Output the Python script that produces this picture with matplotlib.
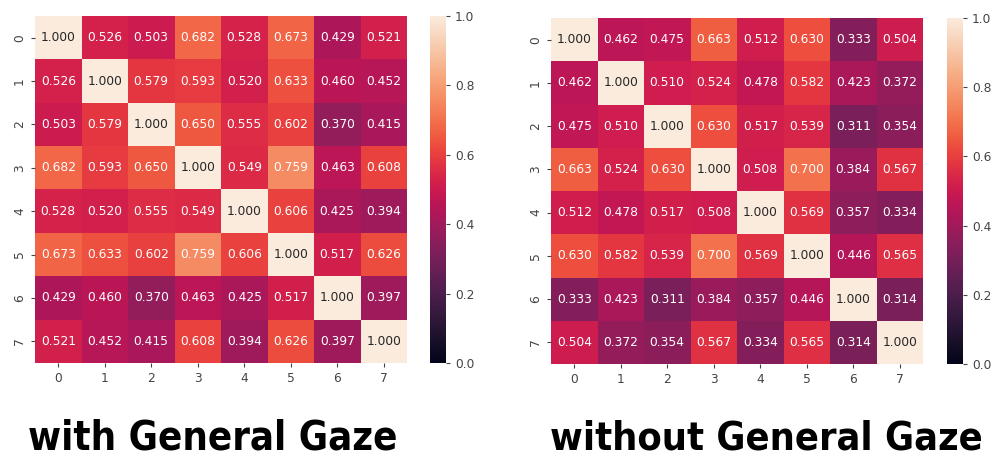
import numpy as np
import matplotlib
matplotlib.use("Agg")
import matplotlib.pyplot as plt
import seaborn as sns

labels = [str(i) for i in range(8)]

with_gaze = [
    [1.000, 0.526, 0.503, 0.682, 0.528, 0.673, 0.429, 0.521],
    [0.526, 1.000, 0.579, 0.593, 0.520, 0.633, 0.460, 0.452],
    [0.503, 0.579, 1.000, 0.650, 0.555, 0.602, 0.370, 0.415],
    [0.682, 0.593, 0.650, 1.000, 0.549, 0.759, 0.463, 0.608],
    [0.528, 0.520, 0.555, 0.549, 1.000, 0.606, 0.425, 0.394],
    [0.673, 0.633, 0.602, 0.759, 0.606, 1.000, 0.517, 0.626],
    [0.429, 0.460, 0.370, 0.463, 0.425, 0.517, 1.000, 0.397],
    [0.521, 0.452, 0.415, 0.608, 0.394, 0.626, 0.397, 1.000],
]

without_gaze = [
    [1.000, 0.462, 0.475, 0.663, 0.512, 0.630, 0.333, 0.504],
    [0.462, 1.000, 0.510, 0.524, 0.478, 0.582, 0.423, 0.372],
    [0.475, 0.510, 1.000, 0.630, 0.517, 0.539, 0.311, 0.354],
    [0.663, 0.524, 0.630, 1.000, 0.508, 0.700, 0.384, 0.567],
    [0.512, 0.478, 0.517, 0.508, 1.000, 0.569, 0.357, 0.334],
    [0.630, 0.582, 0.539, 0.700, 0.569, 1.000, 0.446, 0.565],
    [0.333, 0.423, 0.311, 0.384, 0.357, 0.446, 1.000, 0.314],
    [0.504, 0.372, 0.354, 0.567, 0.334, 0.565, 0.314, 1.000],
]

titles = ["with General Gaze", "without General Gaze"]

W, H = 992, 459
fig = plt.figure(figsize=(W / 100, H / 100), dpi=100)

def box(x0, y0, x1, y1):
    return [x0 / W, 1 - y1 / H, (x1 - x0) / W, (y1 - y0) / H]

panels = [
    (with_gaze, box(35, 16, 407, 363), box(430, 16, 446, 363), (28, 397)),
    (without_gaze, box(551, 18, 923, 364), box(947, 18, 963, 364), (550, 982)),
]

fig.canvas.draw()
renderer = fig.canvas.get_renderer()

for (data, axbox, cbbox, (tx0, tx1)), title in zip(panels, titles):
    ax = fig.add_axes(axbox)
    cax = fig.add_axes(cbbox)
    sns.heatmap(np.array(data), ax=ax, cbar_ax=cax, cmap="rocket", vmin=0, vmax=1,
                annot=True, fmt=".3f", annot_kws={"fontsize": 8.8},
                xticklabels=labels, yticklabels=labels)
    ax.tick_params(axis="both", labelsize=8.8, colors="#444444", length=3)
    for t in ax.get_yticklabels():
        t.set_rotation(90)
        t.set_va("center")
    cax.tick_params(labelsize=8.8, colors="#444444", length=3)
    cax.set_yticks([0.0, 0.2, 0.4, 0.6, 0.8, 1.0])
    for s in cax.spines.values():
        s.set_visible(False)
    txt = fig.text(tx0 / W, 1 - 439 / H, title, fontsize=29, fontweight="bold",
                   family="DejaVu Sans", fontstretch="condensed", va="center", ha="left")
    bb = txt.get_window_extent(renderer=renderer)
    txt.set_fontsize(29 * (tx1 - tx0) / bb.width)

fig.savefig("out.png", dpi=100)
